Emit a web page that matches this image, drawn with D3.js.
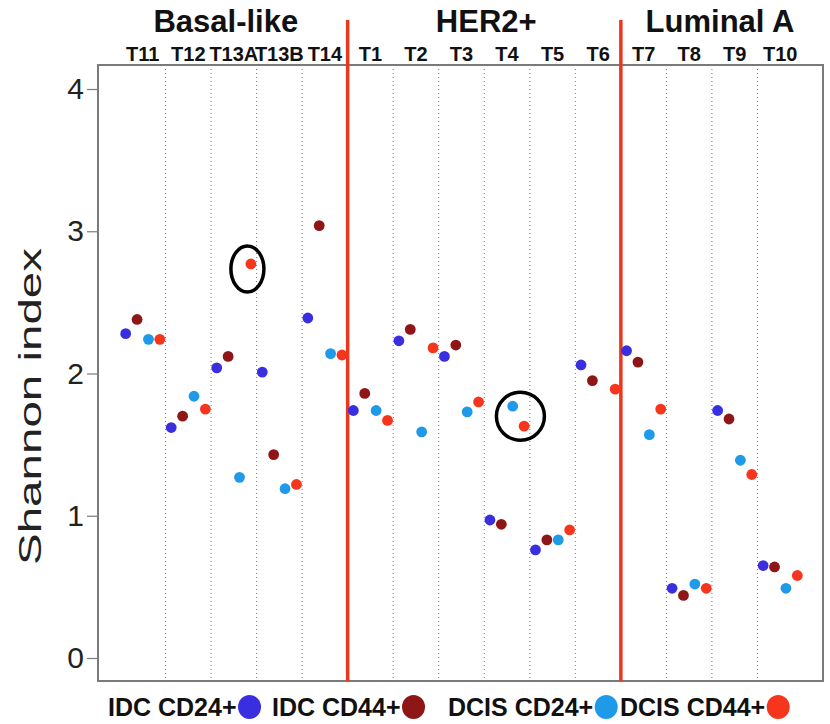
<!DOCTYPE html>
<html>
<head>
<meta charset="utf-8">
<script src="https://cdn.jsdelivr.net/npm/d3@7"></script>
<style>
  body { margin: 0; background: #fff; }
  svg { display: block; font-family: "Liberation Sans", Arial, sans-serif; }
</style>
</head>
<body>
<div id="my_dataviz"></div>
<script>
// data
const groups = ["Basal-like", "HER2+", "Luminal A"];
const samples = ["T11", "T12", "T13A", "T13B", "T14", "T1", "T2", "T3", "T4", "T5", "T6", "T7", "T8", "T9", "T10"];
const sampleGroup = [0, 0, 0, 0, 0, 1, 1, 1, 1, 1, 1, 2, 2, 2, 2];
const series = ["IDC CD24+", "IDC CD44+", "DCIS CD24+", "DCIS CD44+"];
const idcCD24 = [2.28, 1.62, 2.04, 2.01, 2.39, 1.74, 2.23, 2.12, 0.97, 0.76, 2.06, 2.16, 0.49, 1.74, 0.65];
const idcCD44 = [2.38, 1.70, 2.12, 1.43, 3.04, 1.86, 2.31, 2.20, 0.94, 0.83, 1.95, 2.08, 0.44, 1.68, 0.64];
const dcisCD24 = [2.24, 1.84, 1.27, 1.19, 2.14, 1.74, 1.59, 1.73, 1.77, 0.83, null, 1.57, 0.52, 1.39, 0.49];
const dcisCD44 = [2.24, 1.75, 2.77, 1.22, 2.13, 1.67, 2.18, 1.80, 1.63, 0.90, 1.89, 1.75, 0.49, 1.29, 0.58];
const yTicks = [0, 1, 2, 3, 4];
// highlighted points: [sample, series]
const highlights = [[["T13A", "DCIS CD44+"]], [["T4", "DCIS CD24+"], ["T4", "DCIS CD44+"]]];

const values = [idcCD24, idcCD44, dcisCD24, dcisCD44];
const colors = ["#3a2fe0", "#8f1616", "#1e9ae8", "#f5351c"];

const W = 830, H = 724;
const box = { left: 98, right: 823, top: 65, bottom: 681 };

const svg = d3.select("#my_dataviz")
  .append("svg")
  .attr("width", W)
  .attr("height", H);

// scales
const x = d3.scaleBand().domain(samples).range([box.left + 22, box.right - 20]);
const xIn = d3.scaleBand().domain(series).range([0, x.bandwidth()]);
const y = d3.scaleLinear().domain([0, 4]).range([658, 89]);
const px = (s, k) => x(s) + xIn(k) + xIn.bandwidth() / 2;

// dotted separators inside a group, red lines between groups
const bounds = samples.slice(1).map((s, i) => ({ s, red: sampleGroup[i + 1] !== sampleGroup[i] }));

svg.append("g")
  .selectAll("line")
  .data(bounds.filter(d => !d.red))
  .join("line")
  .attr("x1", d => x(d.s)).attr("x2", d => x(d.s))
  .attr("y1", box.top).attr("y2", box.bottom)
  .attr("stroke", "#7a7a7a")
  .attr("stroke-width", 1)
  .attr("stroke-dasharray", "1,3");

// plot frame
svg.append("rect")
  .attr("x", box.left).attr("y", box.top)
  .attr("width", box.right - box.left).attr("height", box.bottom - box.top)
  .attr("fill", "none")
  .attr("stroke", "#7a7a7a")
  .attr("stroke-width", 2);

svg.append("g")
  .selectAll("line")
  .data(bounds.filter(d => d.red))
  .join("line")
  .attr("x1", d => x(d.s)).attr("x2", d => x(d.s))
  .attr("y1", 20).attr("y2", box.bottom)
  .attr("stroke", "#e8381e")
  .attr("stroke-width", 3.5);

// y axis
const yAxis = svg.append("g")
  .attr("transform", `translate(${box.left}, 0)`)
  .call(d3.axisLeft(y).tickValues(yTicks).tickFormat(d3.format("d")).tickSize(11).tickPadding(3));
yAxis.select(".domain").remove();
yAxis.selectAll(".tick line").attr("stroke", "#7a7a7a").attr("stroke-width", 1.2);
yAxis.selectAll(".tick text")
  .attr("font-size", 30)
  .attr("fill", "#222")
  .attr("font-family", "Liberation Sans, Arial, sans-serif");

svg.append("text")
  .attr("transform", `translate(41, ${(248 + 565) / 2}) rotate(-90)`)
  .attr("text-anchor", "middle")
  .attr("font-size", 31)
  .attr("fill", "#222")
  .attr("textLength", 317)
  .attr("lengthAdjust", "spacingAndGlyphs")
  .text("Shannon index");

// sample labels
svg.append("g")
  .selectAll("text")
  .data(samples)
  .join("text")
  .attr("x", d => x(d) + x.bandwidth() / 2)
  .attr("y", 61)
  .attr("text-anchor", "middle")
  .attr("font-size", 20)
  .attr("font-weight", "bold")
  .attr("fill", "#111")
  .text(d => d);

// group titles
const titleShift = [-8, 2, 8];
svg.append("g")
  .selectAll("text")
  .data(groups)
  .join("text")
  .attr("x", (d, i) => {
    const members = samples.filter((s, j) => sampleGroup[j] === i);
    const x0 = x(members[0]), x1 = x(members[members.length - 1]) + x.bandwidth();
    return (x0 + x1) / 2 + titleShift[i];
  })
  .attr("y", 32)
  .attr("text-anchor", "middle")
  .attr("font-size", 31)
  .attr("font-weight", "bold")
  .attr("fill", "#111")
  .text(d => d);

// points
const points = [];
samples.forEach((s, i) => series.forEach((k, j) => {
  if (values[j][i] != null) points.push({ s, k, j, v: values[j][i] });
}));

svg.append("g")
  .selectAll("circle")
  .data(points)
  .join("circle")
  .attr("cx", d => px(d.s, d.k))
  .attr("cy", d => y(d.v))
  .attr("r", 5.4)
  .attr("fill", d => colors[d.j]);

// black rings around highlighted points
const valueOf = (s, k) => values[series.indexOf(k)][samples.indexOf(s)];
svg.append("g")
  .selectAll("ellipse")
  .data(highlights)
  .join("ellipse")
  .attr("cx", d => d3.mean(d, p => px(p[0], p[1])) + (d.length > 1 ? 2 : -3.5))
  .attr("cy", d => d3.mean(d, p => y(valueOf(p[0], p[1]))) + (d.length > 1 ? 0 : 5))
  .attr("rx", d => d.length > 1 ? 24 : 16.5)
  .attr("ry", d => d.length > 1 ? 24 : 23)
  .attr("fill", "none")
  .attr("stroke", "#000")
  .attr("stroke-width", 3.5);

// legend
const legendStart = [108, 272, 448, 620];
const legend = svg.append("g")
  .selectAll("g")
  .data(series)
  .join("g")
  .attr("transform", (d, i) => `translate(${legendStart[i]}, 716)`);

legend.append("text")
  .attr("font-size", 25)
  .attr("font-weight", "bold")
  .attr("fill", "#111")
  .text(d => d);

legend.append("ellipse")
  .attr("cx", function () { return this.parentNode.querySelector("text").getComputedTextLength() + 13; })
  .attr("cy", -9)
  .attr("rx", 11.5)
  .attr("ry", 12)
  .attr("fill", (d, i) => colors[i]);
</script>
</body>
</html>
